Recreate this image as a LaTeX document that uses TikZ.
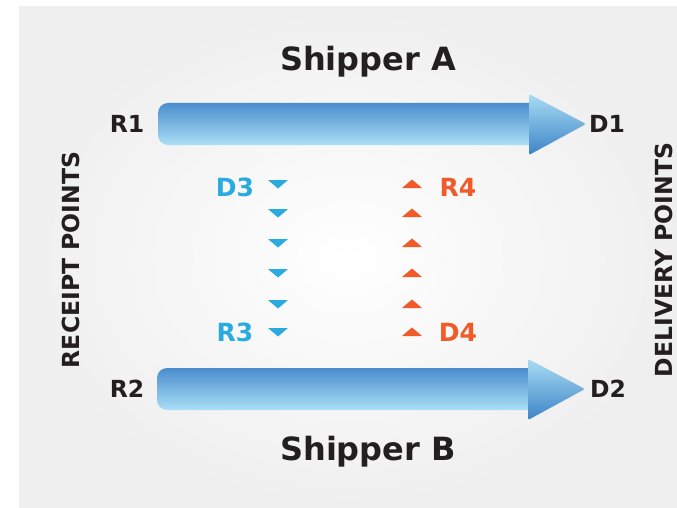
\documentclass[tikz,border=0pt]{standalone}
\usepackage{fontspec}
\setmainfont{DejaVu Sans}
\definecolor{bgedge}{HTML}{EFEFEF}
\definecolor{inktext}{HTML}{231F20}
\definecolor{shafttop}{HTML}{4A8DCD}
\definecolor{shaftbot}{HTML}{AADFF6}
\definecolor{headtop}{HTML}{A8DCF4}
\definecolor{headbot}{HTML}{3D84C6}
\definecolor{blueink}{HTML}{29ABE2}
\definecolor{orangeink}{HTML}{F15A29}
\begin{document}
\begin{tikzpicture}[x=1pt,y=-1pt,
  title/.style={font=\bfseries\fontsize{32}{32}\selectfont, text=inktext, inner sep=0pt},
  endlabel/.style={font=\bfseries\fontsize{23.5}{23.5}\selectfont, text=inktext, inner sep=0pt},
  sidelabel/.style={font=\bfseries\fontsize{23.5}{23.5}\selectfont, text=inktext, inner sep=0pt, rotate=90},
  bluelabel/.style={font=\bfseries\fontsize{25}{25}\selectfont, text=blueink, inner sep=0pt},
  orangelabel/.style={font=\bfseries\fontsize{25}{25}\selectfont, text=orangeink, inner sep=0pt},
  downtri/.style={fill=blueink},
  uptri/.style={fill=orangeink},
  pics/fatarrow/.style={code={
    \shade[top color=shafttop, bottom color=shaftbot]
      (373,-21) {[rounded corners=10pt] -- (0,-21) -- (0,21)} -- (373,21) -- cycle;
    \shade[top color=headtop, bottom color=headbot, rounded corners=1.5pt]
      (371,-30) -- (428,0) -- (371,31) -- cycle;
  }}
]
\useasboundingbox (0,0) rectangle (677,508);
\fill[white] (0,0) rectangle (677,508);
\shade[inner color=white, outer color=bgedge] (19,7) rectangle (677,508);

% titles
\node[title] (shipA) at (368,62) {Shipper A};
\node[title] (shipB) at (368,452) {Shipper B};

% fat arrows
\coordinate (tailA) at (158,124);
\coordinate (tailB) at (157,389);
\pic at (tailA) {fatarrow};
\pic at (tailB) {fatarrow};

% end labels
\node[endlabel] (R1) at (127,124) {R1};
\node[endlabel] (D1) at (607,124) {D1};
\node[endlabel] (R2) at (127,389) {R2};
\node[endlabel] (D2) at (608,389) {D2};

% side labels
\node[sidelabel] (recv) at (71,260) {RECEIPT POINTS};
\node[sidelabel] (deliv) at (664,260) {DELIVERY POINTS};

% middle labels
\node[bluelabel] (D3) at (235,187) {D3};
\node[bluelabel] (R3) at (235,332) {R3};
\node[orangelabel] (R4) at (458,187) {R4};
\node[orangelabel] (D4) at (458,332) {D4};

% small triangles
\foreach \yy in {184,213,243,273,304,332} {
  \fill[downtri] (268,\yy-4) -- (288,\yy-4) -- (278,\yy+4.5) -- cycle;
  \fill[uptri] (402,\yy+4) -- (422,\yy+4) -- (412,\yy-4.5) -- cycle;
}
\end{tikzpicture}
\end{document}
